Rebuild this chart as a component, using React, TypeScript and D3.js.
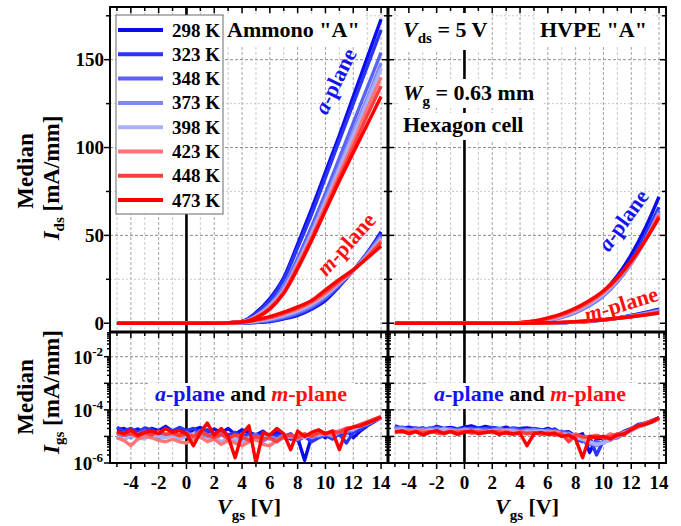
import React from "react";
import * as d3 from "d3";

const temps = ["298 K", "323 K", "348 K", "373 K", "398 K", "423 K", "448 K", "473 K"];
const tempColors = ["#0b0bf0", "#2b35f5", "#5a62f8", "#7f86fa", "#aab0fc", "#ff7474", "#ff3d3d", "#ff0000"];

// drain current, top panels (mA/mm) at Vgs = -5 .. 14 V
const vgsTop = [-5, -4, -3, -2, -1, 0, 1, 2, 3, 4, 5, 6, 7, 8, 9, 10, 11, 12, 13, 14];

const ammonoAPlane = [
  [0, 0, 0, 0, 0, 0, 0, 0, 0.2, 1, 6, 14, 26, 45, 65, 86, 107, 129, 151, 173],
  [0, 0, 0, 0, 0, 0, 0, 0, 0.2, 1, 5.5, 13, 25, 43, 62, 83, 104, 125, 146, 167],
  [0, 0, 0, 0, 0, 0, 0, 0, 0.2, 0.8, 4.5, 11, 21, 37, 55, 74, 94, 114, 134, 154],
  [0, 0, 0, 0, 0, 0, 0, 0, 0.2, 0.8, 4, 10, 20, 35, 52, 71, 90, 109, 128, 148],
  [0, 0, 0, 0, 0, 0, 0, 0, 0.2, 0.7, 4, 10, 19, 34, 51, 69, 88, 107, 126, 145],
  [0, 0, 0, 0, 0, 0, 0, 0, 0.3, 0.7, 3.5, 9, 18, 33, 49, 67, 85, 103, 122, 140],
  [0, 0, 0, 0, 0, 0, 0, 0, 0.3, 0.6, 3.2, 8.5, 17.5, 32, 48, 65, 83, 100, 118, 135],
  [0, 0, 0, 0, 0, 0, 0, 0, 0.3, 0.5, 3, 8, 17, 31, 47, 64, 81, 97, 113, 129],
];

const ammonoMPlane = [
  [0, 0, 0, 0, 0, 0, 0, 0, 0, 0.1, 0.4, 1, 2.5, 4.5, 8, 13, 21, 30, 40, 52],
  [0, 0, 0, 0, 0, 0, 0, 0, 0, 0.15, 0.5, 1.2, 2.8, 5, 8.5, 14, 21.5, 30, 40, 51],
  [0, 0, 0, 0, 0, 0, 0, 0, 0.05, 0.2, 0.7, 1.6, 3.3, 5.7, 9.3, 14.5, 22, 30, 39.5, 50],
  [0, 0, 0, 0, 0, 0, 0, 0, 0.05, 0.3, 1, 2.1, 3.9, 6.5, 10, 15.5, 22.5, 30, 39, 49],
  [0, 0, 0, 0, 0, 0, 0, 0, 0.1, 0.35, 1.2, 2.5, 4.5, 7.2, 11, 16, 23, 30, 38.5, 48],
  [0, 0, 0, 0, 0, 0, 0, 0, 0.1, 0.45, 1.5, 3, 5.2, 8, 11.8, 17, 23.5, 30, 38, 47],
  [0, 0, 0, 0, 0, 0, 0, 0, 0.15, 0.55, 1.8, 3.4, 5.8, 8.7, 12.5, 18, 24, 30, 37.5, 46],
  [0, 0, 0, 0, 0, 0, 0, 0, 0.2, 0.7, 2, 3.8, 6.3, 9.3, 13, 19, 25, 30.5, 37, 44],
];

const hvpeAPlane = [
  [0, 0, 0, 0, 0, 0, 0, 0, 0, 0.2, 0.8, 2, 4, 7, 11.5, 18, 27, 39, 54, 72],
  [0, 0, 0, 0, 0, 0, 0, 0, 0, 0.2, 0.8, 2, 4, 7, 11.5, 17.5, 26, 36, 50, 66],
  [0, 0, 0, 0, 0, 0, 0, 0, 0, 0.1, 0.6, 1.6, 3.3, 6, 10, 15.5, 23.5, 34, 47.5, 64],
  [0, 0, 0, 0, 0, 0, 0, 0, 0, 0.1, 0.6, 1.7, 3.5, 6.3, 10.5, 16, 24, 34, 47, 63],
  [0, 0, 0, 0, 0, 0, 0, 0, 0, 0.15, 0.7, 1.9, 3.9, 6.8, 11, 16.5, 24.5, 34.5, 47, 62.5],
  [0, 0, 0, 0, 0, 0, 0, 0, 0, 0.2, 0.9, 2.3, 4.4, 7.5, 11.8, 17.5, 25, 35, 47, 62],
  [0, 0, 0, 0, 0, 0, 0, 0, 0, 0.3, 1.1, 2.6, 4.9, 8.1, 12.4, 18, 25.5, 35, 47, 61],
  [0, 0, 0, 0, 0, 0, 0, 0, 0, 0.4, 1.3, 3, 5.4, 8.7, 13, 18.5, 26, 35.5, 47, 60],
];

const hvpeMPlane = [
  [0, 0, 0, 0, 0, 0, 0, 0, 0, 0, 0, 0.1, 0.3, 0.6, 1.1, 1.9, 3, 4.4, 6.1, 8],
  [0, 0, 0, 0, 0, 0, 0, 0, 0, 0, 0, 0.1, 0.3, 0.6, 1.1, 1.9, 2.9, 4.3, 5.9, 7.8],
  [0, 0, 0, 0, 0, 0, 0, 0, 0, 0, 0, 0.1, 0.3, 0.6, 1.1, 1.8, 2.8, 4.1, 5.6, 7.4],
  [0, 0, 0, 0, 0, 0, 0, 0, 0, 0, 0.05, 0.15, 0.35, 0.7, 1.2, 1.85, 2.8, 4, 5.4, 7],
  [0, 0, 0, 0, 0, 0, 0, 0, 0, 0, 0.05, 0.15, 0.4, 0.75, 1.25, 1.9, 2.8, 3.9, 5.2, 6.7],
  [0, 0, 0, 0, 0, 0, 0, 0, 0, 0, 0.05, 0.2, 0.45, 0.8, 1.3, 1.95, 2.8, 3.8, 5, 6.4],
  [0, 0, 0, 0, 0, 0, 0, 0, 0, 0, 0.1, 0.2, 0.5, 0.85, 1.35, 2, 2.8, 3.7, 4.8, 6.1],
  [0, 0, 0, 0, 0, 0, 0, 0, 0, 0, 0.1, 0.25, 0.5, 0.9, 1.4, 2, 2.8, 3.7, 4.7, 5.8],
];

// gate leakage, bottom panels: log10 of mA/mm at Vgs = -5 .. 14 V (0.5 V step)
const vgsGate = [
  -5, -4.5, -4, -3.5, -3, -2.5, -2, -1.5, -1, -0.5,
  0, 0.5, 1, 1.5, 2, 2.5, 3, 3.5, 4, 4.5,
  5, 5.5, 6, 6.5, 7, 7.5, 8, 8.5, 9, 9.5,
  10, 10.5, 11, 11.5, 12, 12.5, 13, 13.5, 14,
];

const ammonoIgsLog = [
  [-4.75, -4.70, -4.82, -4.72, -4.88, -4.70, -4.78, -4.62, -4.80, -4.70, -4.92, -4.75, -4.66, -4.82, -4.72, -4.86, -4.70, -4.92, -4.75, -4.85, -4.95, -4.80, -5.02, -4.85, -4.95, -5.10, -5.05, -5.90, -5.00, -4.90, -5.05, -4.82, -4.95, -4.75, -5.05, -4.80, -4.60, -4.45, -4.30],
  [-4.65, -4.80, -4.70, -4.85, -4.68, -4.75, -4.90, -4.70, -4.80, -4.66, -4.78, -4.70, -4.85, -4.75, -4.90, -4.78, -4.95, -4.85, -5.00, -4.90, -5.05, -4.92, -5.10, -4.95, -5.00, -4.90, -5.15, -5.00, -5.20, -5.05, -4.95, -5.10, -4.90, -5.25, -4.85, -4.75, -4.55, -4.40, -4.28],
  [-4.95, -4.85, -5.00, -4.90, -4.80, -4.95, -4.85, -5.00, -4.88, -4.95, -4.85, -4.95, -4.80, -4.92, -5.00, -4.88, -5.05, -4.95, -5.10, -5.00, -4.92, -5.08, -4.98, -5.15, -5.05, -4.95, -5.10, -5.02, -4.90, -5.00, -4.95, -4.85, -4.80, -4.90, -4.70, -4.65, -4.50, -4.40, -4.30],
  [-5.10, -4.95, -5.05, -4.90, -5.00, -4.85, -5.05, -4.95, -4.90, -5.00, -4.95, -5.05, -4.90, -5.00, -5.10, -4.95, -5.05, -5.15, -5.00, -5.10, -5.05, -5.20, -5.00, -5.10, -4.95, -5.05, -5.00, -4.92, -5.05, -4.95, -4.90, -5.00, -4.85, -4.80, -4.75, -4.60, -4.55, -4.42, -4.32],
  [-5.00, -5.15, -4.95, -5.05, -5.10, -4.90, -5.00, -5.05, -4.95, -5.10, -5.00, -4.90, -5.05, -5.15, -5.00, -5.20, -5.05, -5.10, -5.25, -5.05, -5.15, -5.00, -5.10, -5.20, -5.05, -5.00, -4.95, -5.05, -4.90, -4.95, -4.85, -4.90, -4.80, -4.70, -4.75, -4.60, -4.50, -4.40, -4.30],
  [-5.05, -5.15, -5.35, -5.10, -5.00, -5.05, -5.15, -5.20, -5.10, -5.20, -5.25, -5.10, -5.00, -5.20, -5.10, -5.30, -5.15, -5.25, -5.35, -5.20, -5.10, -5.30, -5.35, -5.15, -5.05, -5.00, -5.10, -4.95, -5.00, -4.90, -4.85, -4.95, -4.80, -4.70, -4.65, -4.55, -4.48, -4.38, -4.25],
  [-4.85, -4.95, -4.90, -5.00, -4.85, -4.95, -4.80, -4.92, -4.88, -4.98, -4.90, -5.00, -4.82, -4.95, -5.05, -4.90, -5.10, -4.95, -5.00, -5.15, -5.00, -5.10, -5.05, -5.20, -5.00, -4.95, -5.05, -4.90, -5.00, -4.85, -4.90, -4.80, -4.85, -4.70, -4.65, -4.55, -4.45, -4.35, -4.25],
  [-4.80, -4.90, -4.75, -4.95, -4.85, -4.80, -4.90, -4.70, -4.85, -4.78, -4.90, -5.35, -4.85, -4.50, -4.95, -4.70, -5.00, -5.80, -4.90, -4.60, -6.00, -4.85, -4.95, -4.70, -4.90, -5.50, -4.80, -5.00, -4.85, -4.75, -4.90, -4.80, -5.50, -4.75, -4.65, -4.60, -4.50, -4.40, -4.28],
];

const hvpeIgsLog = [
  [-4.60, -4.70, -4.65, -4.72, -4.68, -4.75, -4.62, -4.70, -4.66, -4.72, -4.65, -4.60, -4.70, -4.62, -4.68, -4.72, -4.65, -4.75, -4.70, -4.68, -4.72, -4.78, -4.70, -4.80, -4.85, -4.82, -5.00, -4.90, -5.60, -5.10, -5.05, -4.95, -5.00, -4.85, -4.75, -4.60, -4.55, -4.40, -4.30],
  [-4.70, -4.65, -4.72, -4.68, -4.75, -4.70, -4.65, -4.72, -4.70, -4.78, -4.70, -4.75, -4.68, -4.72, -4.66, -4.70, -4.75, -4.68, -4.72, -4.78, -4.70, -4.75, -4.80, -4.72, -4.90, -4.85, -5.10, -5.20, -5.00, -5.70, -5.15, -5.00, -4.95, -4.80, -4.70, -4.55, -4.50, -4.40, -4.30],
  [-4.65, -4.72, -4.78, -4.70, -4.75, -4.68, -4.74, -4.70, -4.78, -4.72, -4.75, -4.70, -4.78, -4.72, -4.80, -4.70, -4.76, -4.72, -4.80, -4.75, -4.78, -4.82, -4.75, -4.85, -4.80, -4.95, -5.05, -5.15, -5.30, -5.20, -5.25, -5.10, -5.05, -4.90, -4.70, -4.60, -4.50, -4.42, -4.32],
  [-4.72, -4.68, -4.75, -4.80, -4.72, -4.78, -4.70, -4.76, -4.72, -4.80, -4.72, -4.78, -4.74, -4.82, -4.76, -4.72, -4.80, -4.75, -4.82, -4.78, -4.75, -4.80, -4.78, -4.85, -4.92, -4.88, -5.00, -5.10, -5.25, -5.35, -5.20, -5.15, -4.95, -4.85, -4.75, -4.65, -4.55, -4.45, -4.35],
  [-4.78, -4.74, -4.80, -4.76, -4.82, -4.75, -4.80, -4.72, -4.78, -4.82, -4.76, -4.80, -4.78, -4.84, -4.78, -4.82, -4.76, -4.80, -4.85, -4.80, -4.82, -4.78, -4.85, -4.80, -4.90, -4.95, -5.05, -5.10, -5.20, -5.30, -5.25, -5.10, -5.00, -4.90, -4.80, -4.65, -4.55, -4.45, -4.35],
  [-4.80, -4.85, -4.78, -4.82, -4.76, -4.84, -4.80, -4.86, -4.78, -4.82, -4.80, -4.78, -4.84, -4.80, -4.86, -4.82, -4.78, -4.88, -4.82, -4.86, -4.85, -4.90, -4.86, -4.82, -4.95, -5.10, -4.90, -5.05, -5.00, -4.95, -5.05, -4.90, -5.00, -4.85, -4.75, -4.65, -4.50, -4.45, -4.35],
  [-4.82, -4.78, -4.85, -4.80, -4.88, -4.82, -4.86, -4.90, -4.82, -4.86, -4.80, -4.88, -4.82, -4.86, -4.80, -4.84, -4.88, -4.92, -4.84, -4.90, -4.86, -4.92, -4.88, -4.95, -4.90, -5.20, -4.95, -5.00, -5.05, -4.98, -5.05, -5.00, -4.90, -4.95, -4.70, -4.60, -4.50, -4.40, -4.32],
  [-4.85, -4.80, -4.90, -4.82, -4.95, -4.85, -4.78, -4.88, -4.82, -4.92, -4.85, -4.80, -4.90, -4.85, -4.82, -4.92, -4.86, -4.90, -4.88, -5.35, -4.90, -4.85, -4.92, -4.88, -5.00, -4.95, -5.10, -5.80, -5.00, -5.05, -5.00, -5.10, -4.95, -4.90, -4.75, -4.60, -4.55, -4.45, -4.30],
];

const yTopMajor = [0, 50, 100, 150];
const yTopMinor = [25, 75, 125, 175];
const xTickLabels = [-4, -2, 0, 2, 4, 6, 8, 10, 12, 14];
const logDecades = [-6, -5, -4, -3, -2];
const logLabels = [-6, -4, -2];

const FONT = "Liberation Serif, DejaVu Serif, serif";
const L0 = 110, MID = 388, R1 = 666, TOP = 7, SPLIT = 332, BOT = 463;
const BLUE = "#1414ee";
const RED = "#ff1010";

export default function App() {
  const xL = d3.scaleLinear().domain([-5.5, 14.5]).range([L0, MID]);
  const xR = d3.scaleLinear().domain([-5.5, 14.5]).range([MID, R1]);
  const yTop = d3.scaleLinear().domain([-5, 180]).range([SPLIT, TOP]);
  const yBot = d3.scaleLog().domain([1e-6, Math.pow(10, -1.07)]).range([BOT, SPLIT]);

  const topPath = (x: any, vals: number[]) =>
    d3.line<number>().x((_, i) => x(vgsTop[i])).y((d) => yTop(d)).curve(d3.curveMonotoneX)(vals) || "";
  const gatePath = (x: any, vals: number[]) =>
    d3.line<number>().x((_, i) => x(vgsGate[i])).y((d) => yBot(Math.pow(10, d)))(vals) || "";

  const logMinor: number[] = [];
  logDecades.forEach((k) => {
    [2, 3, 4, 5, 6, 7, 8, 9].forEach((m) => {
      const v = m * Math.pow(10, k);
      if (v < yBot.domain()[1]) logMinor.push(v);
    });
  });

  const grid = (x: any, key: string) => {
    const [a, b] = x.range();
    return (
      <g key={key}>
        {vgsTop.filter((v) => v !== 0).map((v) => (
          <line key={"v" + v} x1={x(v)} x2={x(v)} y1={TOP} y2={BOT}
            stroke={v % 2 === 0 ? "#9a9a9a" : "#c4c4c4"} strokeWidth={0.9} strokeDasharray="3,2" />
        ))}
        {yTopMinor.map((v) => (
          <line key={"hm" + v} x1={a} x2={b} y1={yTop(v)} y2={yTop(v)} stroke="#c4c4c4" strokeWidth={0.9} strokeDasharray="2,2" />
        ))}
        {yTopMajor.filter((v) => v > 0).map((v) => (
          <line key={"hM" + v} x1={a} x2={b} y1={yTop(v)} y2={yTop(v)} stroke="#808080" strokeWidth={0.9} strokeDasharray="3,2" />
        ))}
        {[-5, -4, -3, -2].map((k) => (
          <line key={"hl" + k} x1={a} x2={b} y1={yBot(Math.pow(10, k))} y2={yBot(Math.pow(10, k))}
            stroke="#808080" strokeWidth={0.9} strokeDasharray="3,2" />
        ))}
        <line x1={x(0)} x2={x(0)} y1={TOP} y2={BOT} stroke="#000" strokeWidth={2.6} />
      </g>
    );
  };

  const curves = (x: any, aData: number[][], mData: number[][], igs: number[][], key: string) => (
    <g key={key}>
      <g clipPath={`url(#clipTop${key})`}>
        {aData.map((vals, i) => (
          <path key={"a" + i} d={topPath(x, vals)} fill="none" stroke={tempColors[i]} strokeWidth={3.4} />
        ))}
        {mData.map((vals, i) => (
          <path key={"m" + i} d={topPath(x, vals)} fill="none" stroke={tempColors[i]} strokeWidth={3.4} />
        ))}
      </g>
      <g clipPath={`url(#clipBot${key})`}>
        {igs.map((vals, i) => (
          <path key={"g" + i} d={gatePath(x, vals)} fill="none" stroke={tempColors[i]} strokeWidth={3.4} strokeLinejoin="round" />
        ))}
      </g>
    </g>
  );

  const tk = (x1: number, y1: number, x2: number, y2: number, key: string) => (
    <line key={key} x1={x1} y1={y1} x2={x2} y2={y2} stroke="#000" strokeWidth={1.5} />
  );

  const ticks: React.ReactNode[] = [];
  [xL, xR].forEach((x, p) => {
    vgsTop.forEach((v) => {
      const len = v % 2 === 0 ? 6 : 4;
      ticks.push(tk(x(v), TOP, x(v), TOP + len, `t${p}${v}`));
      ticks.push(tk(x(v), SPLIT, x(v), SPLIT + len, `s${p}${v}`));
      ticks.push(tk(x(v), BOT, x(v), BOT + len, `b${p}${v}`));
    });
  });
  const yTicks = (vals: number[], y: (v: number) => number, len: number, tag: string) => {
    vals.forEach((v) => {
      ticks.push(tk(L0 - len, y(v), L0, y(v), `yl${tag}${v}`));
      ticks.push(tk(MID - len, y(v), MID + len, y(v), `ym${tag}${v}`));
      ticks.push(tk(R1 - len, y(v), R1, y(v), `yr${tag}${v}`));
    });
  };
  yTicks(yTopMajor, yTop, 6, "M");
  yTicks(yTopMinor, yTop, 4, "m");
  yTicks(logDecades.map((k) => Math.pow(10, k)), (v) => yBot(v), 6, "LM");
  yTicks(logMinor, (v) => yBot(v), 3, "Lm");

  const whiteBox = (x: number, y: number, w: number, h: number) => (
    <rect x={x} y={y} width={w} height={h} fill="#fff" />
  );

  return (
    <svg width={681} height={526} style={{ position: "absolute", left: 0, top: 0, background: "#fff", fontFamily: FONT, fontWeight: 700 }}>
      <defs>
        <clipPath id="clipTopL"><rect x={L0} y={TOP} width={MID - L0} height={SPLIT - TOP} /></clipPath>
        <clipPath id="clipTopR"><rect x={MID} y={TOP} width={R1 - MID} height={SPLIT - TOP} /></clipPath>
        <clipPath id="clipBotL"><rect x={L0} y={SPLIT} width={MID - L0} height={BOT - SPLIT} /></clipPath>
        <clipPath id="clipBotR"><rect x={MID} y={SPLIT} width={R1 - MID} height={BOT - SPLIT} /></clipPath>
      </defs>
      <rect x={0} y={0} width={681} height={526} fill="#fff" />

      {grid(xL, "gL")}
      {grid(xR, "gR")}

      {/* white label boxes */}
      {whiteBox(224, 14, 140, 31)}
      {whiteBox(398, 13, 93, 37)}
      {whiteBox(536, 14, 117, 31)}
      {whiteBox(398, 79, 145, 29)}
      {whiteBox(398, 113, 134, 27)}
      {whiteBox(148, 383, 207, 26)}
      {whiteBox(426, 383, 210, 26)}

      {/* legend */}
      <rect x={116} y={15} width={107} height={199} fill="#fff" stroke="#6a6a6a" strokeWidth={1} />
      {temps.map((t, i) => (
        <g key={t}>
          <line x1={118} x2={163} y1={30 + i * 24.3} y2={30 + i * 24.3} stroke={tempColors[i]} strokeWidth={4} />
          <text x={172} y={30 + i * 24.3 + 6.5} fontSize={19}>{t}</text>
        </g>
      ))}

      {curves(xL, ammonoAPlane, ammonoMPlane, ammonoIgsLog, "L")}
      {curves(xR, hvpeAPlane, hvpeMPlane, hvpeIgsLog, "R")}

      {/* frame */}
      <rect x={L0} y={TOP} width={R1 - L0} height={BOT - TOP} fill="none" stroke="#000" strokeWidth={2} />
      <line x1={L0} x2={R1} y1={SPLIT} y2={SPLIT} stroke="#000" strokeWidth={3} />
      <line x1={MID} x2={MID} y1={TOP} y2={BOT} stroke="#000" strokeWidth={3} />
      {ticks}

      {/* panel annotations */}
      <text x={227} y={37} fontSize={22}>Ammono "A"</text>
      <text x={403} y={37} fontSize={22}>
        <tspan fontStyle="italic">V</tspan><tspan fontSize={15} dy={6}>ds</tspan><tspan dy={-6}> = 5 V</tspan>
      </text>
      <text x={540} y={37} fontSize={22}>HVPE "A"</text>
      <text x={403} y={100} fontSize={22}>
        <tspan fontStyle="italic">W</tspan><tspan fontSize={15} dy={6}>g</tspan><tspan dy={-6}> = 0.63 mm</tspan>
      </text>
      <text x={403} y={132} fontSize={22}>Hexagon cell</text>

      <text transform="translate(335,81) rotate(-64)" textAnchor="middle" dy="0.35em" fontSize={22} fill={BLUE}>
        <tspan fontStyle="italic">a</tspan>-plane
      </text>
      <text transform="translate(346,244) rotate(-48)" textAnchor="middle" dy="0.35em" fontSize={22} fill={RED}>
        <tspan fontStyle="italic">m</tspan>-plane
      </text>
      <text transform="translate(623,220) rotate(-54)" textAnchor="middle" dy="0.35em" fontSize={22} fill={BLUE}>
        <tspan fontStyle="italic">a</tspan>-plane
      </text>
      <text transform="translate(621,304) rotate(-17)" textAnchor="middle" dy="0.35em" fontSize={22} fill={RED}>
        <tspan fontStyle="italic">m</tspan>-plane
      </text>

      {[251, 530].map((cx) => (
        <text key={cx} x={cx} y={401} textAnchor="middle" fontSize={22}>
          <tspan fill={BLUE} fontStyle="italic">a</tspan>
          <tspan fill={BLUE}>-plane</tspan>
          <tspan fill="#000"> and </tspan>
          <tspan fill={RED} fontStyle="italic">m</tspan>
          <tspan fill={RED}>-plane</tspan>
        </text>
      ))}

      {/* tick labels */}
      {yTopMajor.map((v) => (
        <text key={"yl" + v} x={104} y={yTop(v)} dy="0.35em" textAnchor="end" fontSize={19}>{v}</text>
      ))}
      {logLabels.map((k) => (
        <text key={"ll" + k} x={103} y={yBot(Math.pow(10, k))} dy="0.38em" textAnchor="end" fontSize={19}>
          10<tspan fontSize={13} dy={-8}>{k}</tspan>
        </text>
      ))}
      {[xL, xR].map((x, p) =>
        xTickLabels.map((v) => (
          <text key={`xl${p}${v}`} x={x(v)} y={489} textAnchor="middle" fontSize={19}>{v}</text>
        ))
      )}

      {/* axis titles */}
      <text transform="translate(33,171) rotate(-90)" textAnchor="middle" fontSize={23}>Median</text>
      <text transform="translate(59,178) rotate(-90)" textAnchor="middle" fontSize={23}>
        <tspan fontStyle="italic">I</tspan><tspan fontSize={15} dy={5}>ds</tspan><tspan dy={-5}> [mA/mm]</tspan>
      </text>
      <text transform="translate(33,397) rotate(-90)" textAnchor="middle" fontSize={23}>Median</text>
      <text transform="translate(59,392) rotate(-90)" textAnchor="middle" fontSize={23}>
        <tspan fontStyle="italic">I</tspan><tspan fontSize={15} dy={5}>gs</tspan><tspan dy={-5}> [mA/mm]</tspan>
      </text>
      {[249, 527].map((cx) => (
        <text key={"xt" + cx} x={cx} y={514} textAnchor="middle" fontSize={22}>
          <tspan fontStyle="italic">V</tspan><tspan fontSize={15} dy={6}>gs</tspan><tspan dy={-6}> [V]</tspan>
        </text>
      ))}
    </svg>
  );
}
